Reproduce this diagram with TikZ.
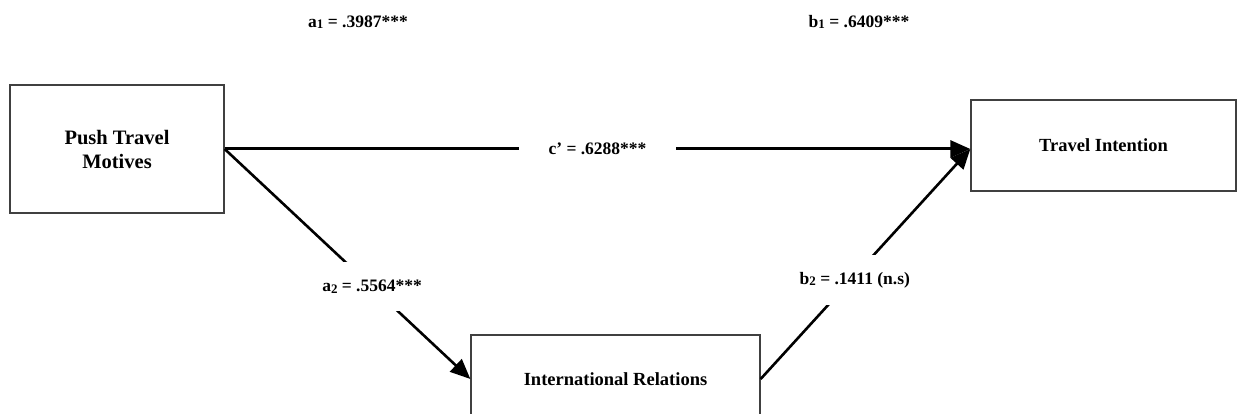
\documentclass[tikz,border=0pt]{standalone}
\usepackage{fontspec}
\setmainfont{Liberation Serif}
\usepackage{tikz}
\usetikzlibrary{shapes,arrows.meta,positioning}

\newcommand{\lowidx}[1]{\raisebox{-0.2ex}{\fontsize{13}{13}\selectfont #1}}

\begin{document}
\begin{tikzpicture}[x=1pt, y=1pt,
	varbox/.style={draw=black!75, line width=1.3pt, rectangle, align=center, font=\fontsize{18.5}{24}\selectfont\bfseries},
	coef/.style={font=\fontsize{17.5}{20}\selectfont\bfseries, fill=white},
	link/.style={line width=2.6pt, -{Triangle[length=20pt, width=17pt]}}]
				\useasboundingbox (0,0) rectangle (1239,414);
				% variables
				\node [varbox, minimum width=214, minimum height=128, font=\fontsize{20.5}{24}\selectfont\bfseries] (push) at (117,265) {Push Travel\\Motives};
				\node [varbox, minimum width=265, minimum height=91] (intent) at (1103.5,268.5) {Travel Intention};
				\node [varbox, minimum width=289, minimum height=88] (relat) at (615.5,35) {International Relations};
				\coordinate (meet) at (push.east -| intent.west);
				% coefficients of the paths
				\node [coef] (a1) at (358,392) {a\lowidx{1} = .3987***};
				\node [coef] (b1) at (859,392) {b\lowidx{1} = .6409***};
				% paths
				\draw [link, line width=3pt] (push.east) -- (meet) node [coef, midway, inner xsep=30pt] (c) {c’ = .6288***};
				\draw [link] (push.east) -- (relat.west) node [coef, pos=0.6, minimum height=49pt, inner xsep=2pt] (a2) {a\lowidx{2} = .5564***};
				\draw [link] (relat.east) -- (meet) node [coef, pos=0.43, minimum height=50pt, inner xsep=2pt, xshift=4pt] (b2) {b\lowidx{2} = .1411 (n.s)};
				\end{tikzpicture}
\end{document}
